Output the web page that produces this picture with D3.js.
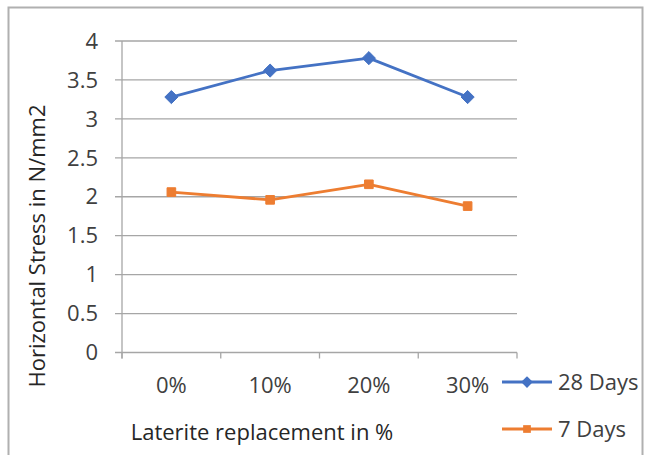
<!DOCTYPE html>
<html>
<head>
<meta charset="utf-8">
<script src="https://cdn.jsdelivr.net/npm/d3@7"></script>
<style>
  html, body { margin: 0; padding: 0; background: #fff; }
  svg { display: block; font-family: "Open Sans", Lato, sans-serif; }
</style>
</head>
<body>
<svg id="chart" width="648" height="455"></svg>
<script>
// Categories and series values
const categories = ["0%", "10%", "20%", "30%"];
const days28 = [3.28, 3.62, 3.78, 3.28];
const days7 = [2.06, 1.96, 2.16, 1.88];
const yTicks = [0, 0.5, 1, 1.5, 2, 2.5, 3, 3.5, 4];
const seriesNames = ["28 Days", "7 Days"];

const series = [
  { name: seriesNames[0], values: days28, color: "#4472C4", symbol: d3.symbolDiamond2, size: 110 },
  { name: seriesNames[1], values: days7, color: "#ED7D31", symbol: d3.symbolSquare2, size: 95 }
];

const FS = 22;
const svg = d3.select("#chart");

// Chart frame
svg.append("rect")
  .attr("x", 8.5).attr("y", 7.5)
  .attr("width", 634).attr("height", 460)
  .attr("fill", "none").attr("stroke", "#b0b0b0").attr("stroke-width", 2);

const plot = { left: 122, right: 517, top: 41, bottom: 352.5 };

const x = d3.scaleBand().domain(categories).range([plot.left, plot.right]);
const y = d3.scaleLinear().domain([0, 4]).range([plot.bottom, plot.top]);

// Horizontal gridlines
svg.append("g")
  .selectAll("line")
  .data(yTicks)
  .join("line")
  .attr("x1", plot.left - 7).attr("x2", plot.right)
  .attr("y1", d => y(d)).attr("y2", d => y(d))
  .attr("stroke", "#a6a6a6").attr("stroke-width", 1.3);

// Y axis line
svg.append("line")
  .attr("x1", plot.left).attr("x2", plot.left)
  .attr("y1", plot.top).attr("y2", plot.bottom + 6)
  .attr("stroke", "#a6a6a6").attr("stroke-width", 1.3);

// Y tick labels
svg.append("g")
  .selectAll("text")
  .data(yTicks)
  .join("text")
  .attr("x", 98)
  .attr("y", d => y(d))
  .attr("dy", "0.35em")
  .attr("text-anchor", "end")
  .attr("font-size", FS)
  .attr("fill", "#404040")
  .text(d => d);

// X axis tick marks at band boundaries
const boundaries = categories.map(c => x(c)).concat([x(categories[categories.length - 1]) + x.bandwidth()]);
svg.append("g")
  .selectAll("line")
  .data(boundaries)
  .join("line")
  .attr("x1", d => d).attr("x2", d => d)
  .attr("y1", plot.bottom).attr("y2", plot.bottom + 6)
  .attr("stroke", "#a6a6a6").attr("stroke-width", 1.3);

// X category labels
svg.append("g")
  .selectAll("text")
  .data(categories)
  .join("text")
  .attr("x", d => x(d) + x.bandwidth() / 2)
  .attr("y", 385)
  .attr("dy", "0.35em")
  .attr("text-anchor", "middle")
  .attr("font-size", FS)
  .attr("fill", "#404040")
  .text(d => d);

// Axis titles
svg.append("text")
  .attr("x", 262).attr("y", 432).attr("dy", "0.35em")
  .attr("text-anchor", "middle")
  .attr("font-size", FS).attr("fill", "#262626")
  .text("Laterite replacement in %");

svg.append("text")
  .attr("transform", "translate(37,246) rotate(-90)")
  .attr("dy", "0.35em")
  .attr("text-anchor", "middle")
  .attr("font-size", FS).attr("fill", "#262626")
  .text("Horizontal Stress in N/mm2");

// Series lines and markers
const line = d3.line()
  .x((d, i) => x(categories[i]) + x.bandwidth() / 2)
  .y(d => y(d));

series.forEach(s => {
  svg.append("path")
    .datum(s.values)
    .attr("d", line)
    .attr("fill", "none")
    .attr("stroke", s.color)
    .attr("stroke-width", 2.8)
    .attr("stroke-linejoin", "round");

  svg.append("g")
    .selectAll("path")
    .data(s.values)
    .join("path")
    .attr("transform", (d, i) => `translate(${x(categories[i]) + x.bandwidth() / 2},${y(d)})`)
    .attr("d", d3.symbol().type(s.symbol).size(s.size))
    .attr("fill", s.color)
    .attr("stroke", s.color)
    .attr("stroke-width", 1);
});

// Legend
const legendY = [382, 429];
series.forEach((s, i) => {
  const g = svg.append("g").attr("transform", `translate(502,${legendY[i]})`);
  g.append("line")
    .attr("x1", 0).attr("x2", 50)
    .attr("stroke", s.color).attr("stroke-width", 2.8);
  g.append("path")
    .attr("transform", "translate(25,0)")
    .attr("d", d3.symbol().type(s.symbol).size(s.size * 0.8))
    .attr("fill", s.color);
  g.append("text")
    .attr("x", 56).attr("dy", "0.35em")
    .attr("font-size", FS).attr("fill", "#404040")
    .text(s.name);
});
</script>
</body>
</html>
